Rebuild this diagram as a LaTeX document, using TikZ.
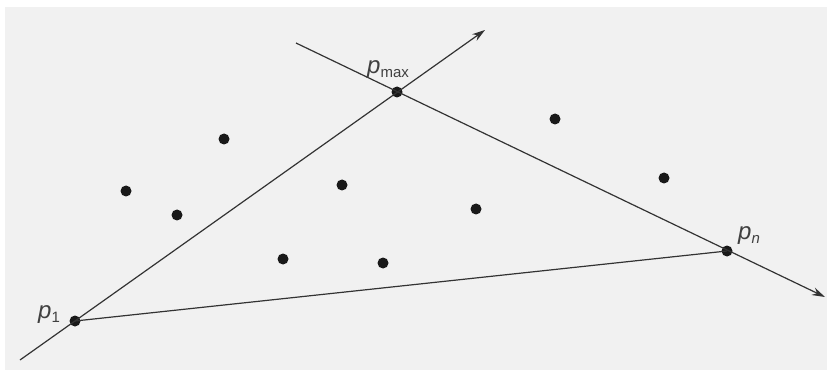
\documentclass[tikz,border=0pt]{standalone}
\usepackage{fontspec}
\setmainfont{Liberation Sans}
\usetikzlibrary{arrows.meta}
\begin{document}
\begin{tikzpicture}[x=1pt,y=-1pt,
  dot/.style={circle,fill=black!90,inner sep=0pt,minimum size=11pt},
  ln/.style={draw=black!80,line width=1.2pt},
  arr/.style={ln,-{Stealth[length=13pt,width=8pt]}},
  lbl/.style={text=black!75,font=\fontsize{24}{24}\selectfont,inner sep=0pt}]
\useasboundingbox (0,0) rectangle (827,374);
\fill[white] (0,0) rectangle (827,374);
\fill[black!5.5] (5,7) rectangle (827,370);
\coordinate (a0) at (20,360);
\coordinate (a1) at (485,30);
\coordinate (b0) at (296,43);
\coordinate (b1) at (825,297);
\node[dot] (p1) at (75,321) {};
\node[dot] (pm) at (397,92) {};
\node[dot] (pn) at (727,251) {};
\draw[arr] (a0) -- (a1);
\draw[arr] (b0) -- (b1);
\draw[ln] (p1.center) -- (pn.center);
\foreach \x/\y [count=\i] in {224/139,126/191,177/215,342/185,283/259,383/263,476/209,555/119,664/178}
  \node[dot] (q\i) at (\x,\y) {};
\node[lbl,anchor=base west] (lm) at (367,74) {\textit{p}\raisebox{-4pt}{\fontsize{15}{15}\selectfont max}};
\node[lbl,anchor=base west] (l1) at (38,318) {\textit{p}\raisebox{-4pt}{\fontsize{15}{15}\selectfont 1}};
\node[lbl,anchor=base west] (ln) at (738,240) {\textit{p}\raisebox{-4pt}{\fontsize{15}{15}\selectfont\textit{n}}};
\end{tikzpicture}
\end{document}
